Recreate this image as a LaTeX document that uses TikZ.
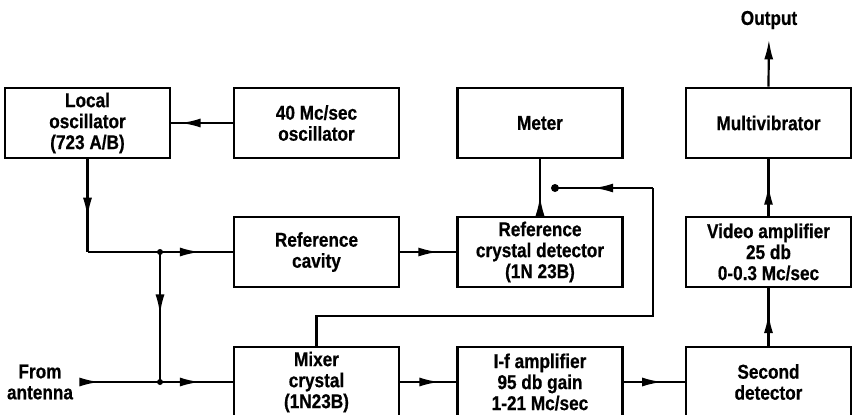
\documentclass[tikz,border=0pt]{standalone}
\usepackage{fontspec}
\setmainfont{Liberation Sans}[FakeStretch=0.86,FakeBold=0.6]
\usetikzlibrary{arrows.meta,decorations.markings}

\tikzset{
  blk/.style={draw, line width=1.4pt, minimum width=82.5pt, minimum height=35pt,
    inner sep=0pt, align=center, font=\fontsize{10}{10.5}\selectfont\bfseries},
  lbl/.style={align=center, inner sep=0pt, font=\fontsize{10}{10.5}\selectfont\bfseries},
  wire/.style={line width=1.1pt},
  arr/.style={postaction={decorate}, decoration={markings,
    mark=at position #1 with {\arrow{Latex[length=10pt,width=4.5pt]}}}},
}

\begin{document}
\begin{tikzpicture}[x=0.5pt,y=-0.5pt]
    \useasboundingbox (0,0) rectangle (853,414);

    % top row
    \node[blk] (lo) at (87.5,123) {Local\\oscillator\\(723 A/B)};
    \node[blk] (osc) at (316.5,123) {40 Mc/sec\\oscillator};
    \node[blk] (met) at (540,123) {Meter};
    \node[blk] (mul) at (768.5,123) {Multivibrator};
    \node[lbl] (out) at (769,20) {Output};

    % middle row
    \node[blk] (cav) at (316.5,252) {Reference\\cavity};
    \node[blk] (rcd) at (540,252) {Reference\\crystal detector\\(1N 23B)};
    \node[blk] (vid) at (768.5,252) {Video amplifier\\25 db\\0-0.3 Mc/sec};

    % bottom row
    \node[lbl] (ant) at (40,382) {From\\antenna};
    \node[blk] (mix) at (316.5,382) {Mixer\\crystal\\(1N23B)};
    \node[blk] (ifa) at (540,382) {I-f amplifier\\95 db gain\\1-21 Mc/sec};
    \node[blk] (sd) at (768.5,382) {Second\\detector};

    \coordinate (j1) at (160,252);
    \coordinate (j2) at (160,382);
    \coordinate (fb) at (653,316);
    \coordinate (fbend) at (555,188);

    % connectors
    \draw[wire, arr=0.85] (osc.west) -- (lo.east);
    \draw[wire, arr=0.63] (lo.south) -- (lo.south |- j1);
    \draw[wire] (lo.south |- j1) -- (j1);
    \draw[wire, arr=0.55] (j1) -- (cav.west);
    \draw[wire, arr=0.48] (j1) -- (j2);
    \draw[wire, arr=0.3, shorten <=5pt] (ant.east) -- (j2);
    \draw[wire, arr=0.55] (j2) -- (mix.west);
    \draw[wire, arr=0.68] (cav.east) -- (rcd.west);
    \draw[wire, arr=0.35] (rcd.north) -- (met.south);
    \draw[wire, arr=0.7] (mix.east) -- (ifa.west);
    \draw[wire, arr=0.63] (ifa.east) -- (sd.west);
    \draw[wire, arr=0.57] (sd.north) -- (vid.south);
    \draw[wire, arr=0.55] (vid.north) -- (mul.south);
    \draw[wire, -{Latex[length=10pt,width=4.5pt]}, shorten >=5pt] (mul.north) -- (out.south);

    % feedback from mixer to meter line
    \draw[wire] (mix.north) |- (fb) -- (fb |- fbend);
    \draw[wire, arr=0.61] (fb |- fbend) -- (fbend);

    \fill (j1) circle (1.5pt);
    \fill (j2) circle (1.5pt);
    \fill (fbend) circle (2pt);
\end{tikzpicture}
\end{document}
